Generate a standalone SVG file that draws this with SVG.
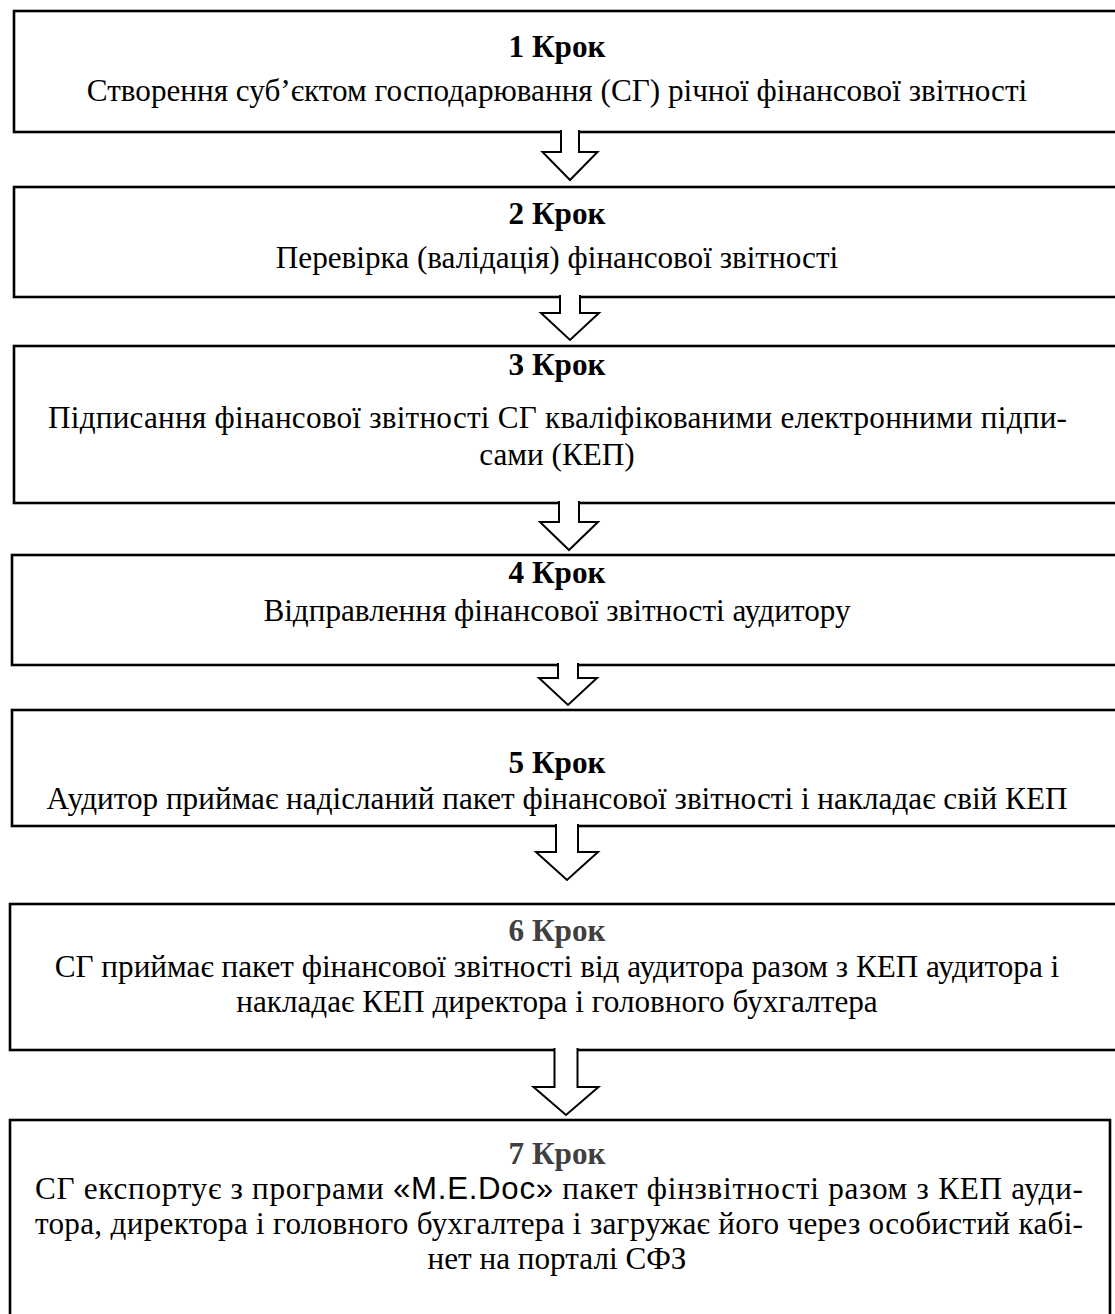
<svg xmlns="http://www.w3.org/2000/svg" width="1115" height="1314" viewBox="0 0 1115 1314">
<style>
.box{fill:#fff;stroke:#000;stroke-width:2.6}
.arr{fill:#fff;stroke:#000;stroke-width:2}
.t{font-family:"Liberation Serif","Times New Roman",serif;font-size:31.2px;fill:#000;text-anchor:middle}
.j{text-anchor:start}
.h{font-weight:bold}
.g{fill:#404040}
.s{font-family:"Liberation Sans",Arial,sans-serif}
</style>
<rect width="1115" height="1314" fill="#fff"/>
<g id="step1">
<rect class="box" x="14" y="11" width="1120" height="121"/>
<text class="t h" x="557" y="57">1 Крок</text>
<text class="t" x="557" y="101">Створення суб’єктом господарювання (СГ) річної фінансової звітності</text>
</g>
<g id="step2">
<rect class="box" x="14" y="187" width="1120" height="110"/>
<text class="t h" x="557" y="224">2 Крок</text>
<text class="t" x="557" y="268">Перевірка (валідація) фінансової звітності</text>
</g>
<g id="step3">
<rect class="box" x="14" y="346" width="1120" height="157"/>
<text class="t h" x="557" y="375">3 Крок</text>
<text class="t j" x="48" y="428" textLength="1019" lengthAdjust="spacing">Підписання фінансової звітності СГ кваліфікованими електронними підпи-</text>
<text class="t" x="557" y="465">сами (КЕП)</text>
</g>
<g id="step4">
<rect class="box" x="12" y="555" width="1120" height="110"/>
<text class="t h" x="557" y="583">4 Крок</text>
<text class="t" x="557" y="621">Відправлення фінансової звітності аудитору</text>
</g>
<g id="step5">
<rect class="box" x="12" y="710" width="1120" height="116"/>
<text class="t h" x="557" y="773">5 Крок</text>
<text class="t" x="557" y="809">Аудитор приймає надісланий пакет фінансової звітності і накладає свій КЕП</text>
</g>
<g id="step6">
<rect class="box" x="10" y="904" width="1120" height="146"/>
<text class="t h g" x="557" y="941">6 Крок</text>
<text class="t" x="557" y="977">СГ приймає пакет фінансової звітності від аудитора разом з КЕП аудитора і</text>
<text class="t" x="557" y="1012">накладає КЕП директора і головного бухгалтера</text>
</g>
<g id="step7">
<rect class="box" x="10" y="1120" width="1100" height="210"/>
<text class="t h g" x="557" y="1164">7 Крок</text>
<text class="t j" x="35" y="1199" textLength="1048" lengthAdjust="spacing">СГ експортує з програми <tspan class="s">«M.E.Doc»</tspan> пакет фінзвітності разом з КЕП ауди-</text>
<text class="t j" x="35" y="1234" textLength="1048" lengthAdjust="spacing">тора, директора і головного бухгалтера і загружає його через особистий кабі-</text>
<text class="t" x="557" y="1269">нет на порталі СФЗ</text>
</g>
<g id="connectors">
<path class="arr" d="M561,130 V152 H542.5 L570,180 L597.5,152 H579 V130"/>
<path class="arr" d="M560,295 V313 H541 L570,340 L599,313 H580 V295"/>
<path class="arr" d="M559,501 V522 H540 L569,550 L598,522 H579 V501"/>
<path class="arr" d="M558,663 V678 H539 L568,705 L597,678 H578 V663"/>
<path class="arr" d="M556,824 V852 H536 L567,880 L598,852 H578 V824"/>
<path class="arr" d="M554.5,1048 V1087 H533.5 L566,1115 L598.5,1087 H577.5 V1048"/>
</g>
</svg>
